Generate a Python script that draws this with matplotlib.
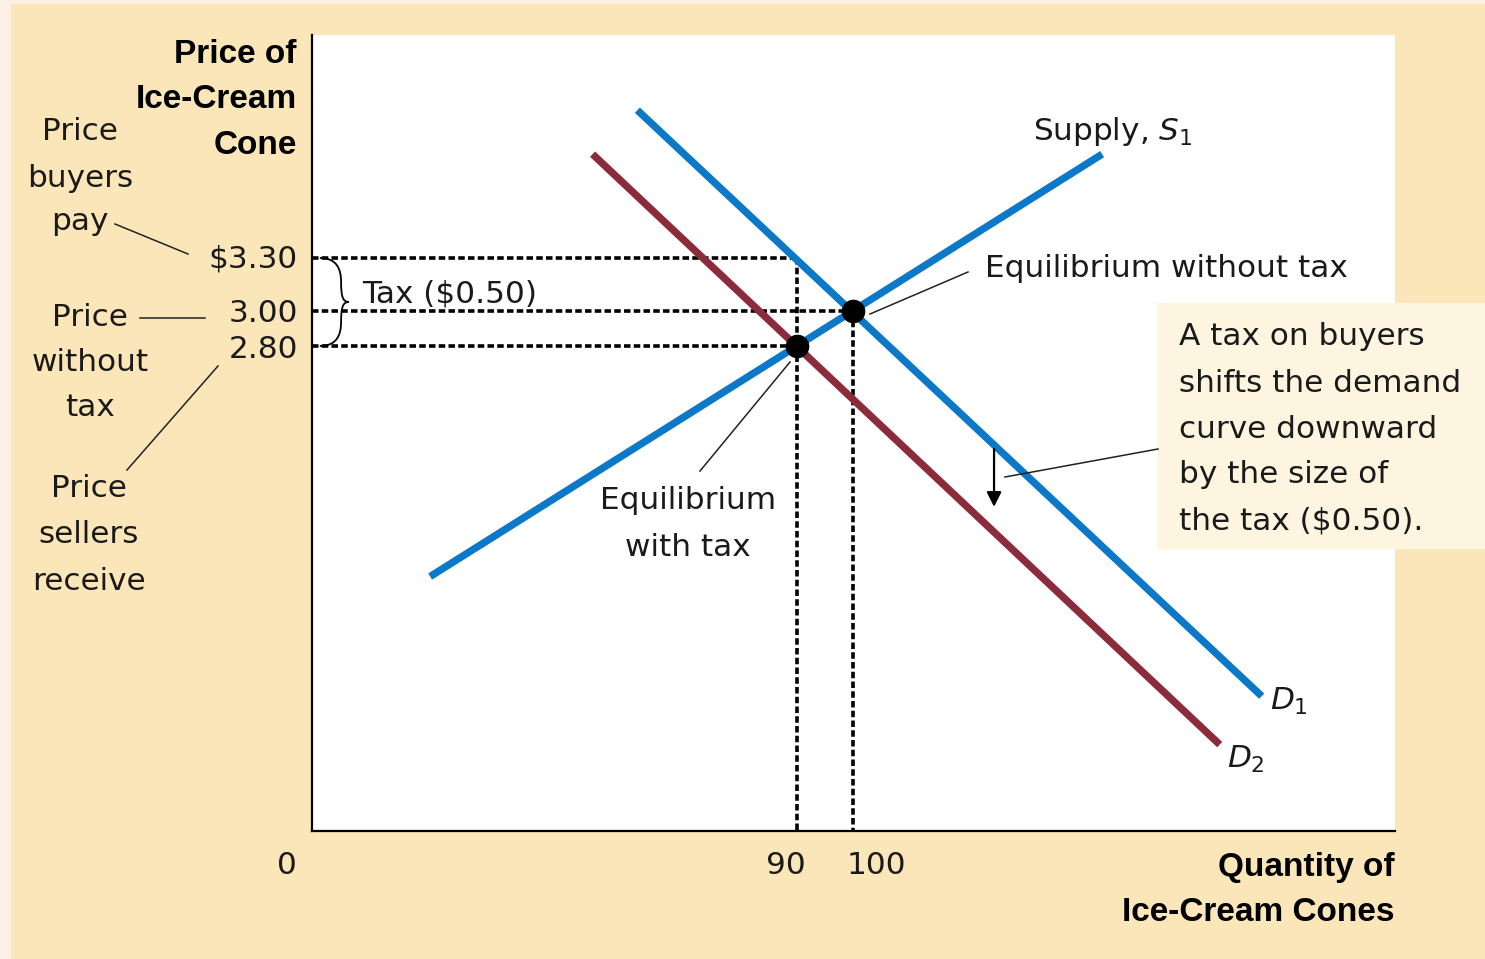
import numpy as np
import matplotlib.pyplot as plt
from matplotlib.path import Path
from matplotlib.patches import PathPatch, Rectangle
from matplotlib.lines import Line2D

W, H = 1485, 959

# pixel -> figure fraction
def fx(x):
    return x / W

def fy(y):
    return 1 - y / H

# --- data ---
supply_q = [24.5, 144.5]
supply_p = [1.49, 3.89]
d1_q = [61.5, 173.0]
d1_p = [4.14, 0.81]
d2_q = [53.5, 165.5]
d2_p = [3.89, 0.535]

eq_q = [100, 90]
eq_p = [3.00, 2.80]

p_buyers = 3.30
p_notax = 3.00
p_sellers = 2.80
q_tax = 90
q_notax = 100

ytick_labels = ['$3.30', '3.00', '2.80']
xtick_labels = ['90', '100']

blue = '#0B78C8'
maroon = '#8B2B3B'
tan = '#FBE6B9'

fig = plt.figure(figsize=(14.85, 9.59), dpi=100)
fig.patch.set_facecolor(tan)
fig.add_artist(Rectangle((0, 0), fx(10), 1, transform=fig.transFigure,
                         color='#FDF1E6', zorder=0))
fig.add_artist(Rectangle((0, fy(3)), 1, 3 / H, transform=fig.transFigure,
                         color='#FDF1E6', zorder=0))

ax = fig.add_axes([fx(312), fy(831), (1395 - 312) / W, (831 - 35) / H])
ax.set_facecolor('white')
ax.set_xlim(3.4, 196.8)
ax.set_ylim(0.044, 4.567)
for s in ['top', 'right']:
    ax.spines[s].set_visible(False)
for s in ['left', 'bottom']:
    ax.spines[s].set_linewidth(1.6)
ax.set_xticks([])
ax.set_yticks([])

# dotted guide lines
dot = dict(color='black', lw=2.6, ls=(0, (1.8, 0.9)), zorder=1)
ax.plot([3.4, q_tax], [p_buyers, p_buyers], **dot)
ax.plot([3.4, q_notax], [p_notax, p_notax], **dot)
ax.plot([3.4, q_tax], [p_sellers, p_sellers], **dot)
ax.plot([q_tax, q_tax], [p_buyers, 0.044], **dot)
ax.plot([q_notax, q_notax], [p_notax, 0.044], **dot)

# curves
ax.plot(supply_q, supply_p, color=blue, lw=5.3, solid_capstyle='butt', zorder=2)
ax.plot(d1_q, d1_p, color=blue, lw=5.3, solid_capstyle='butt', zorder=2)
ax.plot(d2_q, d2_p, color=maroon, lw=5.3, solid_capstyle='butt', zorder=2)
ax.plot(eq_q, eq_p, 'o', color='black', ms=16, zorder=3)

# brace for the tax
verts = [(4.8, 3.30), (7.8, 3.30), (8.6, 3.24), (8.6, 3.16),
         (8.6, 3.08), (8.9, 3.05), (10.0, 3.05),
         (8.9, 3.05), (8.6, 3.02), (8.6, 2.94),
         (8.6, 2.86), (7.8, 2.80), (4.8, 2.80)]
codes = [Path.MOVETO] + [Path.CURVE4] * 12
ax.add_patch(PathPatch(Path(verts, codes), fill=False, lw=1.3, color='black', zorder=2))

# shift arrow
ax.annotate('', xy=(125.2, 1.87), xytext=(125.2, 2.23),
            arrowprops=dict(arrowstyle='-|>', color='black', lw=1.6,
                            mutation_scale=22), zorder=4)

reg = dict(family='DejaVu Sans', fontsize=22.4, color='#1a1a1a')
bold = dict(family='Liberation Sans', fontsize=24, fontweight='bold', color='black')

def txt(x, y, s, ha='left', zorder=6, **kw):
    fig.text(fx(x), fy(y), s, ha=ha, va='baseline', zorder=zorder, **kw)

def leader(x0, y0, x1, y1):
    fig.add_artist(Line2D([fx(x0), fx(x1)], [fy(y0), fy(y1)], transform=fig.transFigure,
                          color='#222222', lw=1.1, zorder=6))

# axis titles
for s, y in zip(['Price of', 'Ice-Cream', 'Cone'], [63, 108, 154]):
    txt(297, y, s, ha='right', **bold)
txt(1395, 876, 'Quantity of', ha='right', **bold)
txt(1395, 921, 'Ice-Cream Cones', ha='right', **bold)

# price tick labels
for s, y in zip(ytick_labels, [268, 322, 358]):
    txt(298, y, s, ha='right', **reg)
txt(786, 874, xtick_labels[0], ha='center', **reg)
txt(876, 874, xtick_labels[1], ha='center', **reg)
txt(287, 874, '0', ha='center', **reg)

# left side notes
for s, y in zip(['Price', 'buyers', 'pay'], [140, 187, 230]):
    txt(80, y, s, ha='center', **reg)
for s, y in zip(['Price', 'without', 'tax'], [326, 371, 416]):
    txt(90, y, s, ha='center', **reg)
for s, y in zip(['Price', 'sellers', 'receive'], [497, 543, 590]):
    txt(89, y, s, ha='center', **reg)
leader(115, 224, 188, 254)
leader(140, 318, 205, 318)
leader(127, 470, 218, 366)

# labels in the plot
txt(362, 302, 'Tax ($0.50)', **reg)
txt(985, 277, 'Equilibrium without tax', **reg)
leader(870, 314, 968, 272)
txt(688, 509, 'Equilibrium', ha='center', **reg)
txt(688, 556, 'with tax', ha='center', **reg)
leader(700, 471, 790, 362)
txt(1033, 140, 'Supply, $S_1$', **reg)
txt(1270, 710, '$D_1$', **reg)
txt(1227, 768, '$D_2$', **reg)

# note box
fig.add_artist(Rectangle((fx(1158), fy(548)), (1485 - 1158) / W, (548 - 303) / H,
                         transform=fig.transFigure, color='#FEF5E1', zorder=5))
box_lines = ['A tax on buyers', 'shifts the demand', 'curve downward',
             'by the size of', 'the tax ($0.50).']
for s, y in zip(box_lines, [345, 392, 438, 483, 530]):
    txt(1179, y, s, **reg)
leader(1005, 477, 1158, 449)

fig.savefig('out.png', dpi=100, facecolor=fig.get_facecolor())
